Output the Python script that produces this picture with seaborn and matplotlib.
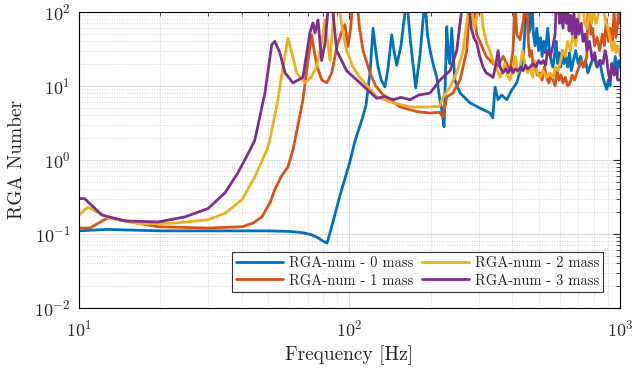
import numpy as np
import pandas as pd
import matplotlib
matplotlib.use("Agg")
import matplotlib.pyplot as plt
import seaborn as sns

labels = ["RGA-num - 0 mass", "RGA-num - 1 mass", "RGA-num - 2 mass", "RGA-num - 3 mass"]
colors = ["#0072BD", "#D95319", "#EDB120", "#7E2F8E"]

f0 = [10, 11, 12.8, 15, 20, 30, 40, 50, 60, 67, 72, 76, 79, 82.6, 84.7, 88.4, 92.2, 100, 104.8,
      111.2, 115.1, 119.1, 122.2, 125, 127.5, 131, 135.3, 139, 143.2, 146, 149.5, 155, 162.7, 168,
      175.7, 182, 190.1, 194, 198.5, 205, 210.2, 215, 219.3, 223.6, 228.8, 232, 235, 238.7, 245,
      256.2, 278.9, 303.7, 330.7, 338.4, 345.1, 354.0, 365.4, 381.2, 397.8, 415.1, 438.0, 452.0,
      456, 460, 464.9, 468, 472, 478, 485, 492, 500, 508, 515, 522, 530, 540, 548, 556, 564, 572,
      580, 588, 596, 604, 612, 620, 630, 640, 650, 660, 672, 685, 700, 715, 730, 745, 760, 780,
      800, 822, 840, 860, 875, 892.9, 905, 918, 930, 945, 960, 975, 990, 1000]
v0 = [0.11, 0.112, 0.115, 0.113, 0.11, 0.11, 0.11, 0.11, 0.108, 0.104, 0.098, 0.09, 0.082, 0.075,
      0.103, 0.184, 0.33, 0.9, 1.8, 3.5, 5.5, 15, 60, 30, 18, 12, 9.7, 18, 49, 30, 19, 35, 150, 40,
      9.4, 25, 150, 50, 30, 18, 13, 7, 4.7, 2.8, 63, 25, 20, 60, 12, 8, 5.9, 5.0, 4.3, 3.7, 9.6,
      6.5, 7.5, 6.5, 8.8, 11, 22, 150, 70, 52, 60, 150, 150, 50, 35, 60, 30, 45, 25, 40, 28, 60,
      30, 22, 18, 25, 40, 20, 28, 18, 30, 20, 25, 18, 28, 16, 22, 30, 20, 25, 18, 22, 15, 20, 25,
      18, 22, 14, 11, 9, 12, 10, 20, 15, 25, 14, 22, 18]

f1 = [10, 10.98, 12.8, 14.8, 19.6, 30, 40.1, 44, 47.5, 51, 53, 56, 59.2, 61.8, 62.9, 67.3, 70,
      72.5, 74, 76, 79, 82.4, 86, 90, 94.6, 96.2, 98.7, 101, 103, 106.3, 109, 112.2, 119.1, 125,
      133, 153.7, 177.2, 198.5, 215, 221.7, 228.8, 241.3, 256.2, 271.2, 278.9, 286.2, 295, 303,
      320, 340, 350.2, 370, 392.1, 402, 409.1, 415, 426.9, 440, 446, 452, 458, 464, 470, 478, 486,
      494, 506, 515, 525, 535, 545, 555, 565, 575, 585, 595, 605, 615, 628, 640, 653, 665, 678,
      692, 705, 720, 735, 753, 762, 770, 780, 790, 805, 822, 840, 860, 875, 890, 905, 920, 935,
      950, 965, 980, 990, 1000]
v1 = [0.12, 0.12, 0.165, 0.15, 0.125, 0.12, 0.125, 0.14, 0.17, 0.27, 0.4, 0.6, 0.8, 1.36, 1.86,
      6.5, 20, 49, 30, 18, 12, 11, 15, 35, 60, 67, 34, 60, 150, 150, 60, 30, 15, 10, 7.6, 5.2,
      4.5, 4.3, 4.4, 3.8, 7.1, 8, 12, 30, 150, 150, 50, 40, 25, 20, 18, 25, 16, 30, 150, 50, 42,
      80, 150, 150, 40, 25, 30, 18, 20, 14, 15, 12, 18, 13, 11, 14, 12, 10, 16, 12, 14, 11, 13, 10,
      11, 14, 12, 15, 18, 22, 18, 25, 150, 150, 50, 60, 35, 45, 30, 50, 35, 80, 40, 60, 35, 100,
      45, 70, 150, 70]

f2 = [10, 10.8, 12.8, 17.1, 22.6, 30, 34.7, 40.1, 44.7, 49.5, 50.8, 54.4, 56.8, 59.2, 61, 63.8,
      68.5, 72, 75.6, 79, 81.2, 84.7, 88.4, 90.7, 94, 97.6, 103, 109.3, 126.1, 144.8, 167.3, 198.5,
      215, 221.7, 235.3, 249.1, 262.8, 278.9, 290, 303.7, 312, 321.5, 330, 339.3, 348, 360, 368,
      375, 383, 392, 400, 410, 418, 427, 436, 445, 455, 465, 475, 485, 495, 506, 520, 535, 550,
      565, 578, 590, 603, 615, 628, 640, 655, 670, 685, 700, 711, 725, 740, 755, 770, 785, 800,
      815, 830, 843, 860, 880, 900, 918, 935, 950, 965, 980, 1000]
v2 = [0.18, 0.23, 0.165, 0.136, 0.14, 0.155, 0.19, 0.29, 0.59, 1.36, 1.86, 6.5, 18, 44, 30, 15,
      11, 13, 18, 40, 78, 22, 150, 150, 60, 30, 18, 13, 7.1, 5.9, 5.2, 5.2, 5.3, 7, 9.7, 15, 30,
      150, 60, 150, 60, 38, 30, 22, 18, 13, 16, 20, 14, 12, 16, 25, 15, 18, 30, 20, 15, 18, 13,
      22, 15, 13, 16, 13, 15, 13, 18, 16, 22, 30, 25, 40, 30, 50, 35, 60, 150, 150, 70, 60, 100,
      70, 100, 70, 90, 150, 150, 80, 60, 45, 30, 40, 28, 35, 25, 30]

f3 = [10, 10.5, 12.16, 14.8, 19.6, 24.7, 30, 34.7, 38.7, 42.9, 44.7, 48.7, 51.6, 53, 55.3, 57.8,
      61.8, 67.3, 71.4, 73.3, 74.6, 76.5, 78.9, 81.2, 84, 85.9, 89.7, 97.6, 109.3, 126.1, 135,
      144.8, 155, 167.3, 180, 198.5, 216.1, 235.3, 249.1, 262.8, 274.2, 282, 288, 295.3, 303,
      311.6, 320, 330, 339.3, 348, 354, 360, 369, 378, 386, 395, 402, 410, 420, 430, 438, 447, 455,
      465, 477, 488, 500, 510, 520, 530, 540, 552, 565, 575, 582, 590, 598, 606, 615, 625, 633,
      640, 648, 656, 665, 675, 685, 695, 705, 718, 730, 742, 755, 770, 790, 805, 822, 845, 865,
      880, 890, 905, 918, 935, 950, 965, 980, 1000]
v3 = [0.30, 0.30, 0.18, 0.15, 0.145, 0.17, 0.22, 0.36, 0.67, 1.36, 1.86, 8, 36, 40, 28, 15, 11,
      13, 52, 71, 52, 78, 22, 38, 150, 150, 30, 16, 11, 6.8, 7.2, 6.5, 7, 6.5, 7.5, 8, 12, 16, 30,
      150, 150, 60, 45, 38, 25, 18, 15, 14, 13, 20, 30, 18, 15, 17, 15, 18, 15, 17, 16, 18, 16,
      19, 17, 18, 20, 18, 22, 20, 22, 19, 30, 25, 35, 50, 150, 150, 70, 100, 60, 150, 70, 100, 55,
      90, 50, 100, 45, 80, 50, 70, 40, 50, 30, 40, 22, 28, 18, 22, 20, 30, 25, 15, 12, 20, 14, 18,
      12, 12]

rows = []
for lab, f, v in zip(labels, [f0, f1, f2, f3], [v0, v1, v2, v3]):
    for a, b in zip(f, v):
        rows.append((lab, a, b))
df = pd.DataFrame(rows, columns=["series", "freq", "rga"])

sns.set_style("white")
plt.rcParams["font.family"] = ["cmr10", "DejaVu Serif"]
plt.rcParams["mathtext.fontset"] = "cm"
plt.rcParams["axes.formatter.use_mathtext"] = True

fig = plt.figure(figsize=(6.36, 3.71), dpi=100)
ax = fig.add_axes([0.124, 0.170, 0.851, 0.798])

sns.lineplot(data=df, x="freq", y="rga", hue="series", hue_order=labels,
             palette=colors, estimator=None, sort=False, linewidth=2.0, ax=ax)

ax.set_xscale("log")
ax.set_yscale("log")
ax.set_xlim(10, 1000)
ax.set_ylim(1e-2, 1e2)

ax.grid(True, which="major", color="#dcdcdc", linewidth=0.8, linestyle="-")
ax.grid(True, which="minor", color="#c8c8c8", linewidth=0.6, linestyle=(0, (1, 2)))
ax.set_axisbelow(True)

for s in ax.spines.values():
    s.set_visible(True)
    s.set_color("black")
    s.set_linewidth(0.8)
ax.tick_params(which="both", direction="in", top=True, right=True, labelsize=13)
ax.tick_params(which="major", length=5)
ax.tick_params(which="minor", length=3)
ax.tick_params(axis="x", which="major", pad=8)
ax.tick_params(axis="y", which="major", pad=6)

ax.set_xlabel("Frequency [Hz]", fontsize=14, labelpad=4)
ax.set_ylabel("RGA Number", fontsize=14, labelpad=6)

handles, labs = ax.get_legend_handles_labels()
leg = ax.legend(handles, labs, ncol=2, loc="lower right", bbox_to_anchor=(0.969, 0.054),
                borderaxespad=0, fontsize=10.5, frameon=True, fancybox=False,
                handlelength=3.2, columnspacing=0.6, handletextpad=0.4, borderpad=0.3,
                labelspacing=0.25)
leg.get_frame().set_edgecolor("black")
leg.get_frame().set_linewidth(0.8)
for lh in leg.get_lines():
    lh.set_linewidth(2.0)

fig.savefig("out.png", dpi=100)
